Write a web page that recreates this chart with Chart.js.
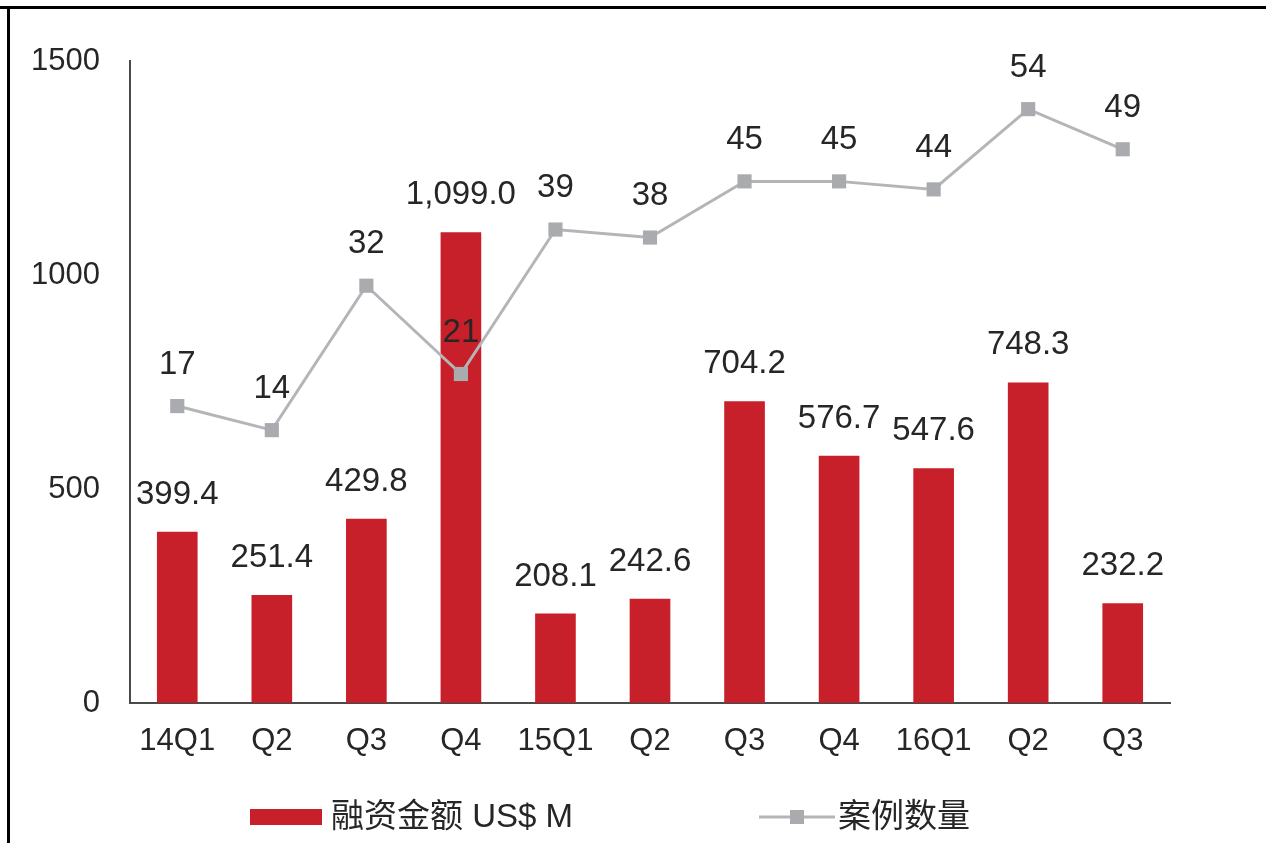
<!DOCTYPE html>
<html>
<head>
<meta charset="utf-8">
<script src="https://cdn.jsdelivr.net/npm/chart.js@4.4.1/dist/chart.umd.min.js"></script>
<style>
  html, body { margin: 0; padding: 0; background: #fff; }
  #wrap { position: relative; width: 1266px; height: 843px; overflow: hidden; }
  #frameTop { position: absolute; left: 0; top: 6px; width: 1266px; height: 3px; background: #000; }
  #frameLeft { position: absolute; left: 7px; top: 6px; width: 3px; height: 837px; background: #000; }
  canvas { position: absolute; left: 0; top: 0; }
</style>
</head>
<body>
<div id="wrap">
  <canvas id="chart" width="1266" height="843"></canvas>
  <div id="frameTop"></div>
  <div id="frameLeft"></div>
</div>
<script>
// quarters and values
const quarters = ['14Q1', 'Q2', 'Q3', 'Q4', '15Q1', 'Q2', 'Q3', 'Q4', '16Q1', 'Q2', 'Q3'];
const fundingAmount = [399.4, 251.4, 429.8, 1099.0, 208.1, 242.6, 704.2, 576.7, 547.6, 748.3, 232.2];
const dealCount = [17, 14, 32, 21, 39, 38, 45, 45, 44, 54, 49];
const leftTicks = [0, 500, 1000, 1500];

const barLabel = '融资金额 US$ M';
const lineLabel = '案例数量';

const RED = '#C8202A';
const GRAY = '#B3B5B8';
const TEXT = '#262626';
const FONT = "'Liberation Sans', Arial, 'Noto Sans CJK SC', sans-serif";

// value labels above bars and markers
const valueLabels = {
    id: 'valueLabels',
    afterDatasetsDraw(chart) {
        const ctx = chart.ctx;
        ctx.save();
        ctx.fillStyle = TEXT;
        ctx.font = '33px ' + FONT;
        ctx.textAlign = 'center';
        ctx.textBaseline = 'bottom';
        chart.data.datasets.forEach((ds, i) => {
            const meta = chart.getDatasetMeta(i);
            meta.data.forEach((el, j) => {
                const v = ds.data[j];
                let txt, y;
                if (ds.type === 'bar') {
                    txt = v.toLocaleString('en-US', { minimumFractionDigits: 1, maximumFractionDigits: 1 });
                    y = el.y - 21;
                } else {
                    txt = String(v);
                    y = el.y - 25;
                }
                ctx.fillText(txt, el.x, y);
            });
        });
        ctx.restore();
    }
};

// bottom legend: bar swatch and line-with-marker
const bottomLegend = {
    id: 'bottomLegend',
    afterDraw(chart) {
        const ctx = chart.ctx;
        const cy = 817;
        ctx.save();
        ctx.font = '33px ' + FONT;
        ctx.textBaseline = 'middle';
        ctx.textAlign = 'left';

        ctx.fillStyle = RED;
        ctx.fillRect(250, cy - 8, 72, 16);
        ctx.fillStyle = TEXT;
        ctx.fillText(barLabel, 331, cy + 1);

        ctx.strokeStyle = GRAY;
        ctx.lineWidth = 3;
        ctx.beginPath();
        ctx.moveTo(759, cy);
        ctx.lineTo(835, cy);
        ctx.stroke();
        ctx.fillStyle = '#A9ABAE';
        ctx.fillRect(797 - 7, cy - 7, 14, 14);
        ctx.fillStyle = TEXT;
        ctx.fillText(lineLabel, 838, cy + 1);
        ctx.restore();
    }
};

new Chart(document.getElementById('chart'), {
    data: {
        labels: quarters,
        datasets: [
            {
                type: 'line',
                label: lineLabel,
                data: dealCount,
                yAxisID: 'y1',
                borderColor: GRAY,
                borderWidth: 3,
                pointStyle: 'rect',
                pointRadius: 10,
                pointBackgroundColor: '#A9ABAE',
                pointBorderWidth: 0,
                tension: 0,
                order: 0
            },
            {
                type: 'bar',
                label: barLabel,
                data: fundingAmount,
                yAxisID: 'y',
                backgroundColor: RED,
                barThickness: 40,
                order: 1
            }
        ]
    },
    options: {
        responsive: false,
        animation: false,
        layout: { padding: { top: 61, right: 96, left: 0, bottom: 0 } },
        plugins: {
            legend: { display: false },
            tooltip: { enabled: false }
        },
        scales: {
            x: {
                grid: { drawOnChartArea: false, drawTicks: false },
                border: { color: '#4a4a4a', width: 2 },
                ticks: { color: TEXT, font: { size: 31, family: FONT }, padding: 20, maxRotation: 0 },
                afterFit(scale) { scale.height = 140; }
            },
            y: {
                min: 0,
                max: 1500,
                afterBuildTicks(scale) { scale.ticks = leftTicks.map(v => ({ value: v })); },
                grid: { drawOnChartArea: false, drawTicks: false },
                border: { color: '#4a4a4a', width: 2 },
                ticks: {
                    color: TEXT,
                    font: { size: 31, family: FONT },
                    padding: 30,
                    callback: v => String(v)
                },
                afterFit(scale) { scale.width = 130; }
            },
            y1: {
                display: false,
                min: -20,
                max: 60
            }
        }
    },
    plugins: [valueLabels, bottomLegend]
});
</script>
</body>
</html>
